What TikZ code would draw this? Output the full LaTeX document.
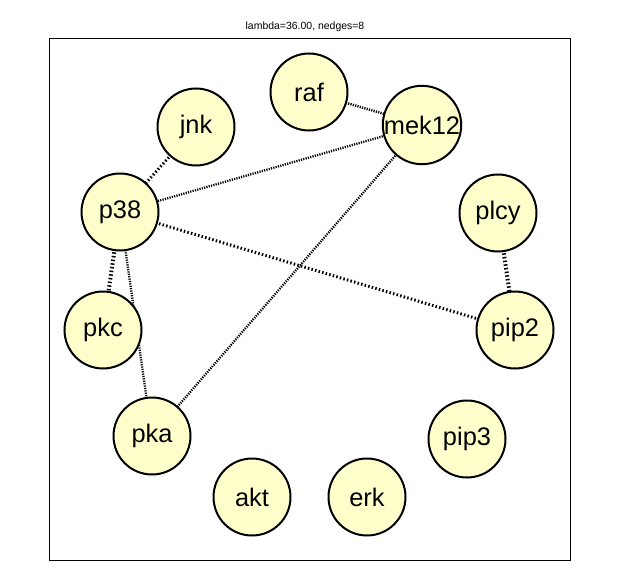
\documentclass[tikz,border=0pt]{standalone}
\usepackage{fontspec}
\setmainfont{Liberation Sans}
\definecolor{nodefill}{RGB}{255,255,204}
\begin{document}
\begin{tikzpicture}[x=1bp,y=-1bp,
  gnode/.style={circle,draw=black,line width=2bp,fill=nodefill,minimum size=77bp,inner sep=0pt,font=\fontsize{25.5}{25.5}\selectfont},
  edge/.style={line width=#1, dash pattern=on 1.2bp off 1.2bp},
  edge/.default=2bp,
  thickedge/.style={line width=#1, dash pattern=on 1.5bp off 2.2bp}]
\useasboundingbox (0,0) rectangle (619,577);
\fill[white] (0,0) rectangle (619,577);
\draw[line width=1bp] (49,39) rectangle (570,560);
\node[font=\fontsize{10.5}{10.5}\selectfont] (title) at (305,27) {lambda=36.00, nedges=8};
% edges first (behind nodes)
\coordinate (craf) at (309,92);
\coordinate (cmek) at (422,125);
\coordinate (cjnk) at (196,127);
\coordinate (cp38) at (120,212);
\coordinate (cplcy) at (498,213);
\coordinate (cpkc) at (103,330);
\coordinate (cpip2) at (515,330);
\coordinate (cpka) at (152,436);
\draw[edge=2.5bp] (craf) -- (cmek);
\draw[edge=2.3bp] (cmek) -- (cp38);
\draw[edge=2.3bp] (cmek) -- (cpka);
\draw[thickedge=3bp] (cjnk) -- (cp38);
\draw[thickedge=3bp] (cp38) -- (cpip2);
\draw[thickedge=4bp] (cp38) -- (cpkc);
\draw[edge=2.3bp] (cp38) -- (cpka);
\draw[thickedge=4bp] (cplcy) -- (cpip2);
% nodes
\node[gnode] (raf) at (craf) {raf};
\node[gnode] (mek12) at (cmek) {mek12};
\node[gnode] (jnk) at (cjnk) {jnk};
\node[gnode] (p38) at (cp38) {p38};
\node[gnode] (plcy) at (cplcy) {plcy};
\node[gnode] (pkc) at (cpkc) {pkc};
\node[gnode] (pip2) at (cpip2) {pip2};
\node[gnode] (pka) at (cpka) {pka};
\node[gnode] (pip3) at (467,439) {pip3};
\node[gnode] (akt) at (252,497) {akt};
\node[gnode] (erk) at (367,497) {erk};
\end{tikzpicture}
\end{document}
